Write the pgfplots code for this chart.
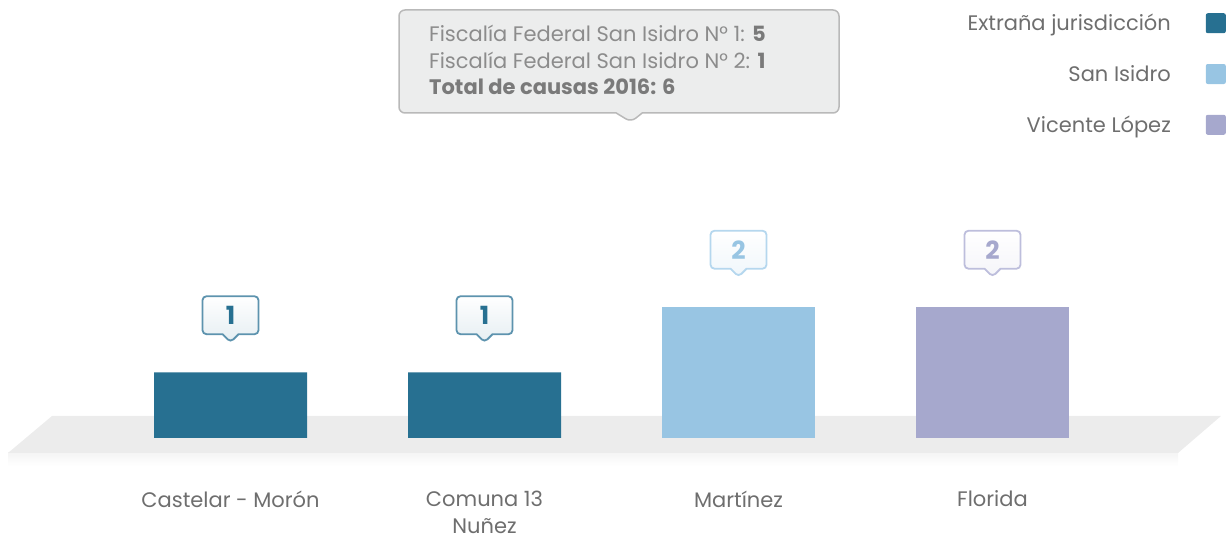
\documentclass[border=0pt]{standalone}
\usepackage{pgfplots}
\pgfplotsset{compat=1.18}
\usepackage{fontspec}
\setmainfont{Poppins}
\usetikzlibrary{shapes.callouts}
\definecolor{cDark}{HTML}{277091}
\definecolor{cLight}{HTML}{98C5E3}
\definecolor{cLav}{HTML}{A6A8CD}
\definecolor{bDark}{HTML}{5D93AE}
\definecolor{bLight}{HTML}{B5D7EE}
\definecolor{bLav}{HTML}{BDBEDC}
\definecolor{txt}{HTML}{6E6E6E}
\definecolor{floorc}{HTML}{ECECEC}
\definecolor{tipfill}{HTML}{ECEDED}
\definecolor{tipdraw}{HTML}{B9B9B9}
\definecolor{tiptxt}{HTML}{8C8C8C}
\definecolor{tipbold}{HTML}{7A7A7A}
\newcommand{\fs}{\fontsize{21pt}{27pt}\selectfont}
\begin{document}
\begin{tikzpicture}[x=1pt,y=1pt]
% floor and its shadow (pixel (px,py) -> (px, 438-py))
\shade[top color=black!4, bottom color=white] (8,-15) rectangle (1178,-28);
\fill[floorc] (8,-15) -- (52,22) -- (1221,22) -- (1178,-15) -- cycle;
\begin{axis}[
  at={(0,0)}, anchor=south west,
  scale only axis, width=1226pt, height=438pt,
  xmin=-0.9075, xmax=3.9193, ymin=0, ymax=6.687,
  clip=false,
  axis line style={draw=none}, tick style={draw=none},
  ytick=\empty, xtick={0,1,2,3},
  xticklabels={Castelar - Morón, {Comuna 13\\Nuñez}, Martínez, Florida},
  xticklabel style={align=center, text=txt, font=\fs, yshift=-45pt},
  /pgf/number format/assume math mode=true,
  ybar, bar width=153pt, bar shift=0pt,
  nodes near coords,
  every node near coord/.append style={rectangle callout,
     callout relative pointer={(0pt,-8pt)}, callout pointer width=16pt,
     minimum width=56pt, minimum height=38pt, rounded corners=4pt,
     line width=1.8pt, anchor=pointer, yshift=29pt, inner sep=0pt,
     font=\fontsize{25pt}{28pt}\selectfont\bfseries},
  legend style={at={(1,1)}, anchor=north east, draw=none, fill=none,
     font=\fs, text=txt, row sep=29pt, inner sep=0pt, yshift=-12pt},
  legend cell align=right, legend plot pos=right,
  legend image code/.code={\path (0pt,0pt) (53pt,0pt);
     \fill[rounded corners=2pt] (33pt,-10pt) rectangle (53pt,10pt);},
]
\addplot[fill=cDark, draw=none,
  every node near coord/.append style={draw=bDark, top color=white, bottom color=cDark!12, text=cDark}]
  coordinates {(0,1) (1,1)};
\addlegendentry{Extraña jurisdicción}
\addplot[fill=cLight, draw=none,
  every node near coord/.append style={draw=bLight, top color=white, bottom color=cLight!15, text=cLight}]
  coordinates {(2,2)};
\addlegendentry{San Isidro}
\addplot[fill=cLav, draw=none,
  every node near coord/.append style={draw=bLav, top color=white, bottom color=cLav!12, text=cLav}]
  coordinates {(3,2)};
\addlegendentry{Vicente López}
\end{axis}
% tooltip
\node[rectangle callout, draw=tipdraw, fill=tipfill, line width=1.5pt,
  rounded corners=6pt, minimum width=440pt, minimum height=103pt, inner sep=0pt,
  callout absolute pointer={(631,316)}, callout pointer width=26pt] at (619,376.5) {};
\begin{scope}[every node/.style={anchor=base west, inner sep=0pt, font=\fs, text=tiptxt}]
\node at (429,396) {Fiscalía Federal San Isidro N° 1: \textcolor{tipbold}{\textbf{5}}};
\node at (429,369) {Fiscalía Federal San Isidro N° 2: \textcolor{tipbold}{\textbf{1}}};
\node at (429,343) {\textcolor{tipbold}{\textbf{Total de causas 2016: 6}}};
\end{scope}
\pgfresetboundingbox
\path (0,-102) rectangle (1226,438);
\end{tikzpicture}
\end{document}
